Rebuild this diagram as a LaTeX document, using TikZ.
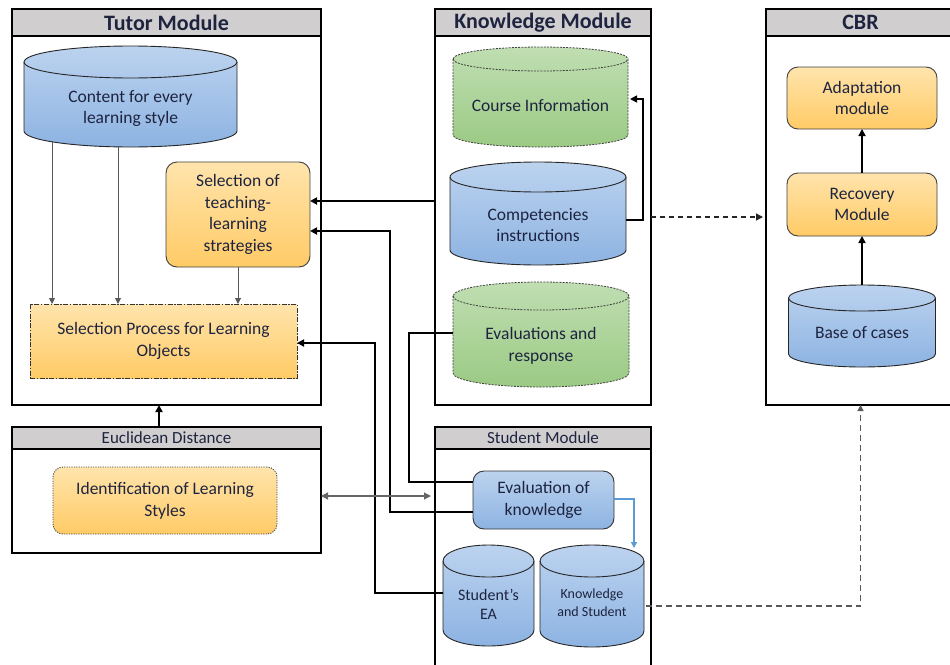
\documentclass[tikz,border=0pt]{standalone}
\usepackage{fontspec}
\setmainfont{Carlito}
\usetikzlibrary{arrows.meta,calc}
\definecolor{hdrgray}{HTML}{D0CECE}
\definecolor{bluetop}{HTML}{BCD3EF}
\definecolor{bluebot}{HTML}{8DB3E2}
\definecolor{orgtop}{HTML}{FFE4AC}
\definecolor{orgbot}{HTML}{FFCB66}
\definecolor{grntop}{HTML}{C0DEB2}
\definecolor{grnbot}{HTML}{9BCA84}
\definecolor{txtc}{HTML}{1E2440}
\definecolor{arrblue}{HTML}{5B9BD5}
\newcommand\myfont{\fontsize{17.5}{21.7}\selectfont}
\newcommand\myhdr{\bfseries\fontsize{22}{26}\selectfont}
\newcommand\mysub{\fontsize{17}{20}\selectfont}
\newcommand\dbcyl[7]{%
 \path[#6] (#1-#4,#2+#5) -- (#1-#4,#3-#5) arc[start angle=180,end angle=360,x radius=#4pt,y radius=#5pt] -- (#1+#4,#2+#5) arc[start angle=0,end angle=180,x radius=#4pt,y radius=#5pt] -- cycle;
 \draw[#7] (#1-#4,#2+#5) arc[start angle=180,end angle=360,x radius=#4pt,y radius=#5pt];}
\begin{document}
\begin{tikzpicture}[x=1pt,y=-1pt,
  modframe/.style={draw=black, line width=1.3pt, fill=white, inner sep=0pt, outer sep=0pt, anchor=north west},
  modhdr/.style={draw=black, line width=1.3pt, fill=hdrgray, inner sep=0pt, outer sep=0pt, anchor=north west, text=txtc},
  bluecyl/.style={top color=bluetop, bottom color=bluebot, draw=black!85, line width=0.9pt},
  grncyl/.style={top color=grntop, bottom color=grnbot, draw=black!75, line width=0.8pt, dash pattern=on 2pt off 1.2pt},
  arcblue/.style={draw=black!85, line width=0.9pt},
  arcgrn/.style={draw=black!75, line width=0.8pt, dash pattern=on 2pt off 1.2pt},
  cyltext/.style={font=\myfont, text=txtc, align=center, inner sep=0pt, outer sep=0pt},
  orgbox/.style={rounded corners=11pt, top color=orgtop, bottom color=orgbot, draw=black!75, line width=0.9pt, font=\myfont, text=txtc, align=center, inner sep=0pt, outer sep=0pt},
  bluebox/.style={rounded corners=11pt, top color=bluetop, bottom color=bluebot, draw=black!80, line width=0.9pt, font=\myfont, text=txtc, align=center, inner sep=0pt, outer sep=0pt},
  conn/.style={draw=black, line width=1.8pt, -{Triangle[length=7pt,width=7pt]}},
  connplain/.style={draw=black, line width=2.3pt},
  thinarr/.style={draw=black!65, line width=1pt, -{Triangle[length=6pt,width=6pt]}},
  dasharr/.style={draw=black!85, line width=1.3pt, dash pattern=on 5pt off 4pt, -{Triangle[length=7pt,width=7pt]}},
  graydash/.style={draw=black!65, line width=1.3pt, dash pattern=on 6pt off 4pt, -{Triangle[length=6pt,width=6pt]}},
  bluearr/.style={draw=arrblue, line width=1.3pt, -{Triangle[length=6pt,width=6pt]}},
  dblarr/.style={draw=black!60, line width=1.2pt, {Triangle[length=7pt,width=7pt]}-{Triangle[length=7pt,width=7pt]}}
]
\useasboundingbox (0,0) rectangle (950,664);

% module frames
\node[modframe, minimum width=309pt, minimum height=396pt] (tutor) at (12,9) {};
\node[modframe, minimum width=216pt, minimum height=396pt] (know) at (435,9) {};
\node[modframe, minimum width=189pt, minimum height=396pt] (cbr) at (766,9) {};
\node[modframe, minimum width=309pt, minimum height=126pt] (euclid) at (12,427) {};
\node[modframe, minimum width=216pt, minimum height=263pt] (student) at (435,427) {};

% headers
\node[modhdr, minimum width=309pt, minimum height=27pt, font=\myhdr] (tutorhdr) at (12,9) {Tutor Module};
\node[modhdr, minimum width=216pt, minimum height=27pt, font=\myhdr] (knowhdr) at (435,9) {Knowledge Module};
\node[modhdr, minimum width=189pt, minimum height=27pt, font=\myhdr] (cbrhdr) at (766,9) {CBR};
\node[modhdr, minimum width=309pt, minimum height=22pt, font=\mysub] (euclidhdr) at (12,427) {Euclidean Distance};
\node[modhdr, minimum width=216pt, minimum height=22pt, font=\mysub] (studenthdr) at (435,427) {Student Module};

% cylinders
\dbcyl{130.5}{46}{147}{106.5}{16}{bluecyl}{arcblue}
\node[cyltext, minimum width=213pt] (content) at (130.5,108.5) {Content for every\\learning style};
\dbcyl{540.5}{47}{147}{87.5}{12}{grncyl}{arcgrn}
\node[cyltext, minimum width=175pt] (courseinfo) at (540.5,106) {Course Information};
\dbcyl{538}{162}{265}{88}{15}{bluecyl}{arcblue}
\node[cyltext, minimum width=176pt] (comp) at (538,225) {Competencies\\instructions};
\dbcyl{541}{282}{387}{88}{14}{grncyl}{arcgrn}
\node[cyltext, minimum width=176pt] (evalresp) at (541,346) {Evaluations and\\response};
\dbcyl{862}{285}{367}{73.5}{13}{bluecyl}{arcblue}
\node[cyltext, minimum width=147pt] (base) at (862,333) {Base of cases};
\dbcyl{488.5}{545}{646}{45.5}{16}{bluecyl}{arcblue}
\node[cyltext, minimum width=91pt, font=\fontsize{16}{19}\selectfont] (sea) at (488.5,604.5) {Student's\\EA};
\dbcyl{592}{545}{647}{52}{16}{bluecyl}{arcblue}
\node[cyltext, minimum width=104pt, font=\fontsize{14}{18}\selectfont] (ks) at (592,603) {Knowledge\\and Student};

% boxes
\node[orgbox, minimum width=144pt, minimum height=105pt] (teach) at (238,214.5) {Selection of\\teaching-\\learning\\strategies};
\node[orgbox, rounded corners=0pt, draw=black!80, dash pattern=on 5pt off 1.5pt on 1.5pt off 1.5pt, minimum width=267pt, minimum height=74pt] (selproc) at (163.5,341) {Selection Process for Learning\\Objects};
\node[orgbox, minimum width=150pt, minimum height=62pt] (adapt) at (862,98) {Adaptation\\module};
\node[orgbox, minimum width=150pt, minimum height=63pt] (recov) at (862,204.5) {Recovery\\Module};
\node[bluebox, minimum width=141pt, minimum height=58pt] (evalk) at (543.5,500) {Evaluation of\\knowledge};
\node[orgbox, rounded corners=10pt, draw=black!70, dash pattern=on 1.2pt off 1.2pt, minimum width=224pt, minimum height=67pt] (idls) at (165,500.5) {Identification of Learning\\Styles};

% tutor internal arrows
\coordinate (cb1) at ($(content.center)+(-78.5,33.5)$);
\coordinate (cb2) at ($(content.center)+(-12.5,38.5)$);
\draw[thinarr] (cb1) -- (cb1 |- selproc.north);
\draw[thinarr] (cb2) -- (cb2 |- selproc.north);
\draw[thinarr] (teach.south) -- (teach.south |- selproc.north);

% euclid -> tutor
\draw[conn] ($(euclid.north)+(-7.5,0)$) -- ($(tutor.south)+(-7.5,0)$);

% knowledge -> teach
\draw[conn] ($(know.west)+(0,-6)$) -- ($(teach.east)+(0,-13.5)$);
% evalk -> teach
\draw[conn] ($(evalk.west)+(0,12)$) -- (390,512) -- (390,231) -- ($(teach.east)+(0,16.5)$);
% evalresp -> evalk
\draw[connplain] ($(evalresp.west)+(0,-13)$) -- (409,333) -- (409,482) -- ($(evalk.west)+(0,-18)$);
% student's EA -> selproc
\draw[conn] ($(sea.west)+(0,-11.5)$) -- (375,593) -- (375,343) -- ($(selproc.east)+(0,2)$);
% comp -> course info
\draw[conn, line width=1.6pt] ($(comp.east)+(0,-5)$) -- (643,220) -- (643,99) -- ($(courseinfo.east)+(2,-7)$);
% knowledge -> CBR
\draw[dasharr, shorten >=3pt] ($(know.east)+(0,10)$) -- ($(cbr.west)+(0,10)$);
% CBR internal
\draw[conn, line width=1.6pt] ($(base.center)+(0,-48)$) -- (recov.south);
\draw[conn, line width=1.6pt] (recov.north) -- (adapt.south);
% evalk -> ks (blue)
\draw[bluearr] ($(evalk.east)+(0,-1)$) -| ($(ks.center)+(42,-55)$);
% ks -> CBR
\draw[graydash] ($(ks.east)+(2,3)$) -| (cbr.south);
% euclid <-> student
\draw[dblarr, shorten >=4pt] ($(euclid.east)+(0,6)$) -- ($(student.west)+(0,-62.5)$);
\end{tikzpicture}
\end{document}
